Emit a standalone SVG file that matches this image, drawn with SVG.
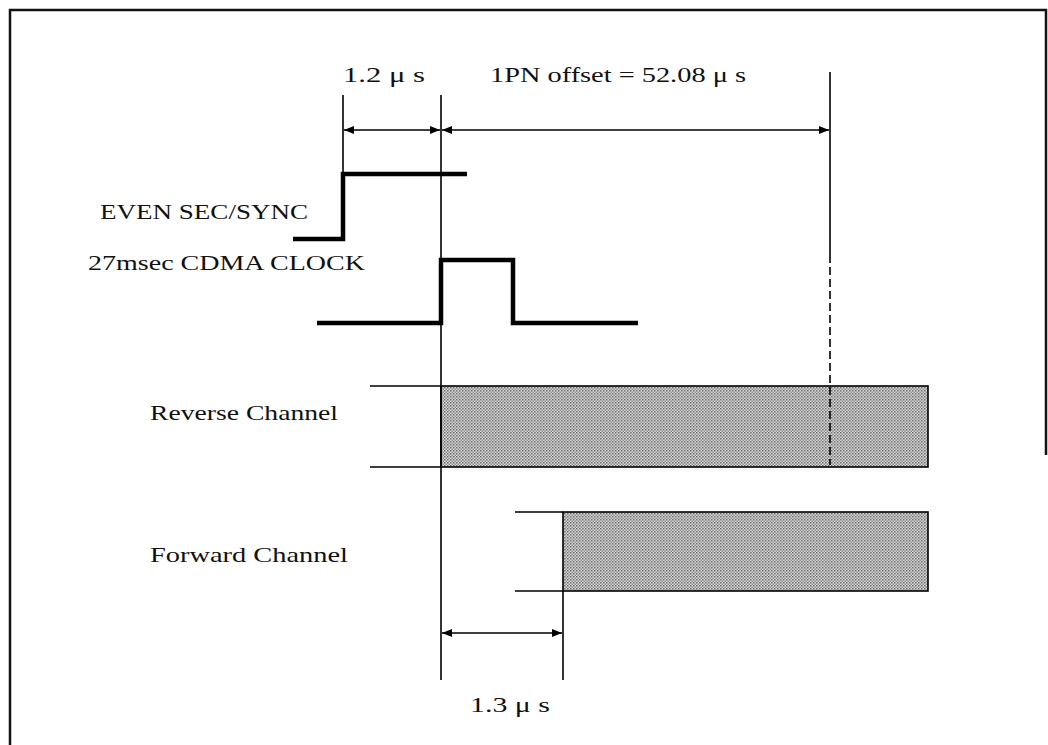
<svg xmlns="http://www.w3.org/2000/svg" width="1048" height="745" viewBox="0 0 1048 745">
<style>
.t{font-family:"Liberation Serif","DejaVu Serif",serif;font-size:21px;fill:#111}
.ln{stroke:#000;stroke-width:1.6;fill:none}
.sig{stroke:#000;stroke-width:4.5;fill:none;stroke-linejoin:miter}
.bar{fill:url(#dots);stroke:#000;stroke-width:1.6}
</style>
<defs>
<pattern id="dots" width="3" height="3" patternUnits="userSpaceOnUse">
<rect width="3" height="3" fill="#d8d8d8"/>
<rect width="1.5" height="1.5" fill="#6a6a6a"/>
<rect x="1.5" y="1.5" width="1.5" height="1.5" fill="#8e8e8e"/>
</pattern>
<marker id="ah" viewBox="0 0 10 10" refX="10" refY="5" markerWidth="10" markerHeight="10" markerUnits="userSpaceOnUse" orient="auto-start-reverse">
<path d="M0,1 L10,5 L0,9 Z" fill="#000"/>
</marker>
</defs>
<rect width="1048" height="745" fill="#fff"/>
<g id="frame">
<path d="M10,745 V10 H1046 V455" stroke="#111" stroke-width="2.5" fill="none"/>
</g>
<g id="labels">
<text class="t" x="343" y="82" textLength="82" lengthAdjust="spacingAndGlyphs">1.2 μ s</text>
<text class="t" x="490" y="82" textLength="256" lengthAdjust="spacingAndGlyphs">1PN offset = 52.08 μ s</text>
<text class="t" x="470" y="712" textLength="80" lengthAdjust="spacingAndGlyphs">1.3 μ s</text>
</g>
<g id="even-sec-sync">
<text class="t" x="100" y="219" textLength="208" lengthAdjust="spacingAndGlyphs">EVEN SEC/SYNC</text>
<path class="sig" d="M293,239 H343 V174 H467"/>
</g>
<g id="cdma-clock">
<text class="t" x="88" y="270" textLength="277" lengthAdjust="spacingAndGlyphs">27msec CDMA CLOCK</text>
<path class="sig" d="M317,323 H441 V260 H513 V323 H638"/>
</g>
<g id="reverse-channel">
<text class="t" x="150" y="420" textLength="188" lengthAdjust="spacingAndGlyphs">Reverse Channel</text>
<rect class="bar" x="441" y="386" width="487" height="81"/>
<path class="ln" d="M370,386 H441 M370,467 H441"/>
</g>
<g id="forward-channel">
<text class="t" x="150" y="562" textLength="198" lengthAdjust="spacingAndGlyphs">Forward Channel</text>
<rect class="bar" x="563" y="512" width="365" height="79"/>
<path class="ln" d="M515,512 H563 M515,591 H563"/>
</g>
<g id="connectors">
<path class="ln" d="M343,95 V174"/>
<path class="ln" d="M441,95 V680"/>
<path class="ln" d="M830,72 V255"/>
<path class="ln" d="M830,255 V465" stroke-dasharray="8,4"/>
<path class="ln" d="M563,591 V680"/>
<path class="ln" d="M344,130 H440" marker-start="url(#ah)" marker-end="url(#ah)"/>
<path class="ln" d="M442,130 H829" marker-start="url(#ah)" marker-end="url(#ah)"/>
<path class="ln" d="M442,633 H562" marker-start="url(#ah)" marker-end="url(#ah)"/>
</g>
</svg>
